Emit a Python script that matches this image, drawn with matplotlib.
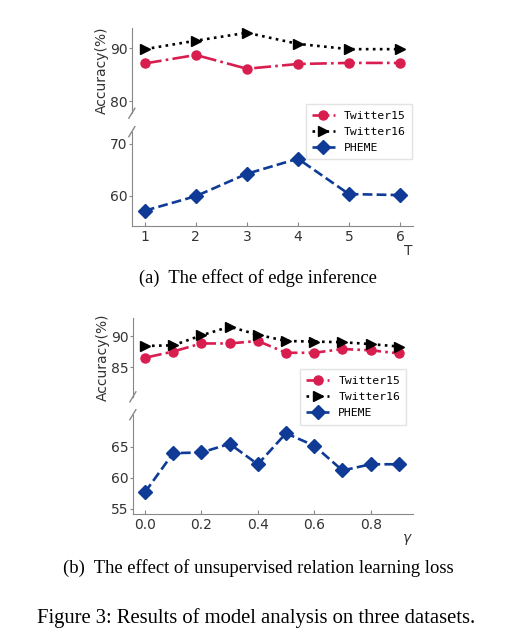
import matplotlib.pyplot as plt
import numpy as np

# (a) edge inference
T = [1, 2, 3, 4, 5, 6]
a_tw15 = [87.1, 88.7, 86.1, 87.0, 87.2, 87.2]
a_tw16 = [89.8, 91.4, 92.9, 90.8, 89.8, 89.8]
a_pheme = [57.1, 59.9, 64.2, 67.1, 60.3, 60.1]

# (b) unsupervised relation learning loss
gamma = [0.0, 0.1, 0.2, 0.3, 0.4, 0.5, 0.6, 0.7, 0.8, 0.9]
b_tw15 = [86.5, 87.5, 88.8, 88.8, 89.2, 87.3, 87.3, 87.9, 87.7, 87.2]
b_tw16 = [88.4, 88.5, 90.1, 91.5, 90.2, 89.2, 89.1, 89.0, 88.7, 88.3]
b_pheme = [57.7, 64.0, 64.1, 65.5, 62.2, 67.2, 65.2, 61.2, 62.2, 62.2]

red = '#d81e4f'
blue = '#0f3b96'
spine_c = '#888888'

fig = plt.figure(figsize=(5.13, 6.36), dpi=100)


def brk(ax, y):
    # small "/" break mark crossing the left spine, sized in pixels
    w, h = ax.bbox.width, ax.bbox.height
    dx, dy = 3 / w, 5 / h
    ax.plot([-dx, dx], [y - dy, y + dy], transform=ax.transAxes,
            color=spine_c, lw=1, clip_on=False)


def panel(top_box, bot_box, x, tw15, tw16, pheme, ylim_top, ylim_bot,
          xlim, yt_top, yt_bot, xt, xlabel, leg_xy):
    ax1 = fig.add_axes(top_box)
    ax2 = fig.add_axes(bot_box)
    for ax in (ax1, ax2):
        l1, = ax.plot(x, tw15, color=red, linestyle='-.', marker='o',
                      markersize=6.5, linewidth=1.9, label='Twitter15')
        l2, = ax.plot(x, tw16, color='black', linestyle=':', marker='>',
                      markersize=7.5, linewidth=1.9, label='Twitter16')
        l3, = ax.plot(x, pheme, color=blue, linestyle='--', marker='D',
                      markersize=7, linewidth=1.9, label='PHEME')
        ax.set_xlim(*xlim)
        for s in ('top', 'right'):
            ax.spines[s].set_visible(False)
        ax.spines['left'].set_color(spine_c)
        ax.spines['bottom'].set_color(spine_c)
        ax.tick_params(axis='y', direction='out', length=2, color=spine_c,
                       labelsize=10, pad=1, labelcolor='#333333')
        ax.tick_params(axis='x', direction='in', length=3, color=spine_c,
                       labelsize=10, pad=3, labelcolor='#333333')
    ax1.set_ylim(*ylim_top)
    ax2.set_ylim(*ylim_bot)
    ax1.set_yticks(yt_top)
    ax2.set_yticks(yt_bot)
    ax2.set_xticks(xt)
    ax1.spines['bottom'].set_visible(False)
    ax1.tick_params(axis='x', bottom=False, labelbottom=False)
    ax1.set_ylabel('Accuracy(%)', fontsize=10, color='#333333', labelpad=1)
    ax2.set_xlabel(xlabel, loc='right', fontsize=10, labelpad=0,
                   color='#333333')
    brk(ax1, 0.0)
    brk(ax2, 1.0)
    fig.legend([l1, l2, l3], ['Twitter15', 'Twitter16', 'PHEME'],
               loc='upper left', bbox_to_anchor=leg_xy,
               prop={'family': 'DejaVu Sans Mono', 'size': 8.2},
               handlelength=2.0, borderpad=0.55, labelspacing=0.55,
               frameon=True, edgecolor='#dddddd', fancybox=False)


panel([0.257, 0.822, 0.548, 0.134], [0.257, 0.645, 0.548, 0.148],
      T, a_tw15, a_tw16, a_pheme, (77.7, 93.8), (54.2, 72.3),
      (0.745, 6.255), [80, 90], [60, 70], T, 'T', (0.585, 0.845))

panel([0.259, 0.376, 0.546, 0.124], [0.259, 0.192, 0.546, 0.156],
      gamma, b_tw15, b_tw16, b_pheme, (80.2, 92.9), (54.2, 70.2),
      (-0.043, 0.95), [85, 90], [55, 60, 65], [0.0, 0.2, 0.4, 0.6, 0.8],
      r'$\gamma$', (0.574, 0.428))

serif = 'Liberation Serif'
fig.text(0.503, 1 - 278 / 636, '(a)  The effect of edge inference',
         ha='center', va='center', family=serif, fontsize=13.3)
fig.text(0.503, 1 - 568 / 636,
         '(b)  The effect of unsupervised relation learning loss',
         ha='center', va='center', family=serif, fontsize=13.4)
fig.text(0.5, 1 - 618 / 636, 'Figure 3: Results of model analysis on three datasets.',
         ha='center', va='center', family=serif, fontsize=14.9)

plt.savefig('out.png')
